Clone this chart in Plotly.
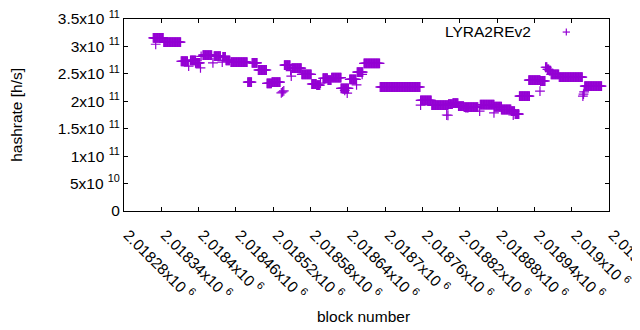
import plotly.graph_objects as go

# runs of consecutive blocks sharing the same hashrate (values in h/s)
run_start = [2018327, 2018344, 2018372, 2018387, 2018395, 2018407, 2018425, 2018439, 2018444, 2018452,
             2018479, 2018486, 2018496, 2018510, 2018518, 2018538, 2018550, 2018566, 2018582, 2018590,
             2018600, 2018608, 2018614, 2018629, 2018643, 2018655, 2018666, 2018692, 2018757, 2018775,
             2018802, 2018809, 2018818, 2018827, 2018853, 2018876, 2018887, 2018903, 2018909, 2018917,
             2018931, 2018950, 2018958, 2018961, 2018964, 2018967, 2018980, 2019021]
run_end = [2018343, 2018371, 2018382, 2018395, 2018402, 2018421, 2018435, 2018443, 2018450, 2018478,
           2018485, 2018494, 2018509, 2018517, 2018531, 2018547, 2018565, 2018581, 2018589, 2018595,
           2018607, 2018613, 2018629, 2018641, 2018653, 2018664, 2018691, 2018756, 2018774, 2018801,
           2018808, 2018817, 2018826, 2018849, 2018875, 2018887, 2018902, 2018908, 2018915, 2018932,
           2018949, 2018957, 2018960, 2018963, 2018966, 2018979, 2019017, 2019048]
run_value = [3.155e11, 3.08e11, 2.73e11, 2.745e11, 2.70e11, 2.84e11, 2.825e11, 2.81e11, 2.745e11, 2.715e11,
             2.35e11, 2.70e11, 2.57e11, 2.325e11, 2.35e11, 2.66e11, 2.605e11, 2.49e11, 2.315e11, 2.295e11,
             2.42e11, 2.385e11, 2.43e11, 2.235e11, 2.40e11, 2.53e11, 2.69e11, 2.26e11, 2.015e11, 1.93e11,
             1.95e11, 1.965e11, 1.91e11, 1.895e11, 1.94e11, 1.90e11, 1.85e11, 1.82e11, 1.765e11, 2.095e11,
             2.385e11, 2.37e11, 2.62e11, 2.58e11, 2.56e11, 2.49e11, 2.44e11, 2.275e11]

# isolated blocks
pt_block = [2018331, 2018384, 2018403, 2018404, 2018423, 2018438, 2018533, 2018535, 2018537, 2018548,
            2018549, 2018596, 2018635, 2018639, 2018654, 2018663, 2018757, 2018799, 2018801, 2018830,
            2018833, 2018852, 2018875, 2018906, 2018914, 2018916, 2018949, 2019018, 2019019, 2019020]
pt_value = [3.04e11, 2.64e11, 2.61e11, 2.82e11, 2.70e11, 2.715e11, 2.155e11, 2.17e11, 2.19e11, 2.56e11,
            2.46e11, 2.33e11, 2.20e11, 2.15e11, 2.30e11, 2.49e11, 1.93e11, 1.75e11, 1.745e11, 1.88e11,
            1.88e11, 1.82e11, 1.79e11, 1.75e11, 1.77e11, 2.095e11, 2.185e11, 2.095e11, 2.13e11, 2.17e11]

series_name = "LYRA2REv2"
x_tickvals = list(range(2018280, 2019061, 60))
x_ticktext = [f"{v/1e6:.6g}x10 <sup>6</sup>" for v in x_tickvals]
y_tickvals = [0, 5e10, 1e11, 1.5e11, 2e11, 2.5e11, 3e11, 3.5e11]
y_ticktext = ["0", "5x10 <sup>10</sup>", "1x10 <sup>11</sup>", "1.5x10 <sup>11</sup>", "2x10 <sup>11</sup>",
              "2.5x10 <sup>11</sup>", "3x10 <sup>11</sup>", "3.5x10 <sup>11</sup>"]

xs, ys = [], []
for s, e, v in zip(run_start, run_end, run_value):
    for b in range(s, e + 1):
        xs.append(b)
        ys.append(v)
xs += pt_block
ys += pt_value

COLOR = "#9400d3"
FONT = "Liberation Sans, Arial, sans-serif"

fig = go.Figure()
fig.add_trace(go.Scatter(
    x=xs, y=ys, mode="markers", name=series_name, showlegend=False,
    marker=dict(symbol="cross-thin", size=7, color=COLOR, line=dict(color=COLOR, width=1.2)),
))

axis_common = dict(showline=True, linecolor="black", linewidth=1, mirror="allticks",
                   ticks="inside", ticklen=4, tickcolor="black", showgrid=False, zeroline=False,
                   ticklabeloverflow="allow",
                   tickfont=dict(family=FONT, size=15.5, color="black"))

# page body adds an 8px offset, so the figure is 8px smaller and margins shifted
fig.update_layout(
    width=632, height=322,
    margin=dict(l=116, r=31, t=11, b=119, autoexpand=False),
    paper_bgcolor="white", plot_bgcolor="white",
    font=dict(family=FONT, size=15.5, color="black"),
    xaxis=dict(range=[2018280, 2019060], tickvals=x_tickvals, ticktext=x_ticktext,
               tickangle=45, ticklabelstandoff=8, ticklabelshift=4, **axis_common),
    yaxis=dict(range=[0, 3.5e11], tickvals=y_tickvals, ticktext=y_ticktext, **axis_common),
    annotations=[
        dict(text="block number", xref="paper", yref="paper", x=0.494, y=-0.548,
             showarrow=False, xanchor="center", yanchor="middle"),
        dict(text="hashrate [h/s]", xref="paper", yref="paper", x=-0.223, y=0.5, textangle=-90,
             showarrow=False, xanchor="center", yanchor="middle"),
        dict(text=series_name, xref="paper", yref="paper", x=0.8433, y=0.935,
             showarrow=False, xanchor="right", yanchor="middle"),
    ],
    shapes=[
        dict(type="line", xref="paper", yref="paper", x0=0.912 - 0.0075, x1=0.912 + 0.0075,
             y0=0.932, y1=0.932, line=dict(color=COLOR, width=1.2)),
        dict(type="line", xref="paper", yref="paper", x0=0.912, x1=0.912,
             y0=0.932 - 0.018, y1=0.932 + 0.018, line=dict(color=COLOR, width=1.2)),
    ],
)

fig.write_html("out.html")
